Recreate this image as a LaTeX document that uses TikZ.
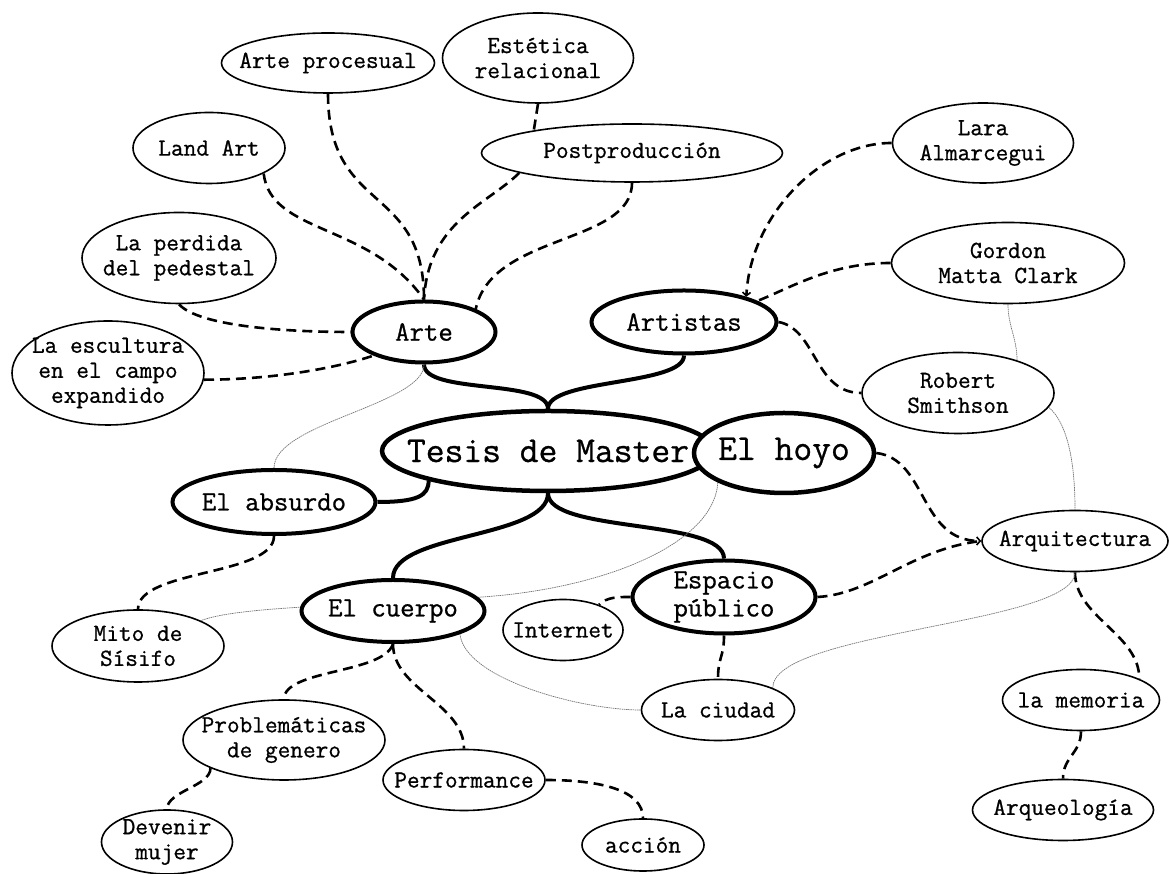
\documentclass[tikz,border=0pt]{standalone}
\usepackage{fontspec}
\usetikzlibrary{shapes.geometric,arrows.meta,backgrounds}
\newfontfamily\mapmono{Latin Modern Mono}[FakeBold=0.8]
\newcommand{\rootfont}{\mapmono\fontsize{36.5}{40}\selectfont}
\newcommand{\topicfont}{\mapmono\fontsize{28}{28}\selectfont}
\newcommand{\leaffont}{\mapmono\fontsize{24.6}{25}\selectfont}

\tikzset{
  mainnode/.style={ellipse, draw, line width=4.5pt, fill=white, inner sep=0pt,
    label={[font=\rootfont, align=center]center:#1}},
  topicnode/.style={ellipse, draw, line width=4pt, fill=white, inner sep=0pt,
    label={[font=\topicfont, align=center]center:#1}},
  leafnode/.style={ellipse, draw, line width=1.6pt, fill=white, inner sep=0pt,
    label={[font=\leaffont, align=center]center:#1}},
  trunkline/.style={line width=4pt},
  branchline/.style={line width=2.6pt, dash pattern=on 10pt off 6pt},
  crossline/.style={line width=0.7pt, black!55, dash pattern=on 1.5pt off 0.7pt},
  tipped/.style={-{Straight Barb[length=3.5pt,width=8pt,line width=1.6pt]}}
}

\begin{document}
\begin{tikzpicture}[x=1pt,y=1pt]
\useasboundingbox (0,0) rectangle (1169,874);

% centre and main topics
\node[mainnode={Tesis de Master}, minimum width=332, minimum height=80] (tesis) at (548,423) {};
\node[mainnode={El hoyo}, minimum width=180, minimum height=80] (hoyo) at (784,421) {};
\node[topicnode={Arte}, minimum width=143, minimum height=61] (arte) at (424,542) {};
\node[topicnode={Artistas}, minimum width=185, minimum height=63] (artistas) at (684,552) {};
\node[topicnode={El absurdo}, minimum width=203, minimum height=64] (absurdo) at (274,372) {};
\node[topicnode={El cuerpo}, minimum width=183, minimum height=62] (cuerpo) at (393,263) {};
\node[topicnode={Espacio\\público}, minimum width=183, minimum height=73] (espacio) at (724,277) {};

% Arte
\node[leafnode={Land Art}, minimum width=152, minimum height=71] (landart) at (209,726) {};
\node[leafnode={La perdida\\del pedestal}, minimum width=194, minimum height=91] (pedestal) at (179,616) {};
\node[leafnode={La escultura\\en el campo\\expandido}, minimum width=192, minimum height=104] (escultura) at (108,501) {};
\node[leafnode={Arte procesual}, minimum width=213, minimum height=60] (procesual) at (328,811) {};
\node[leafnode={Estética\\relacional}, minimum width=191, minimum height=90] (estetica) at (538,816) {};
\node[leafnode={Postproducción}, minimum width=301, minimum height=58] (postprod) at (632,721) {};

% Artistas
\node[leafnode={Lara\\Almarcegui}, minimum width=181, minimum height=80] (lara) at (983,731) {};
\node[leafnode={Gordon\\Matta Clark}, minimum width=233, minimum height=81] (gordon) at (1008,611) {};
\node[leafnode={Robert\\Smithson}, minimum width=192, minimum height=81] (smithson) at (958,481) {};

% El hoyo / Espacio publico
\node[leafnode={Arquitectura}, minimum width=186, minimum height=61] (arquitectura) at (1075,333) {};
\node[leafnode={la memoria}, minimum width=157, minimum height=61] (memoria) at (1081,174) {};
\node[leafnode={Arqueología}, minimum width=181, minimum height=61] (arqueologia) at (1063,64) {};
\node[leafnode={Internet}, minimum width=120, minimum height=61] (internet) at (563,244) {};
\node[leafnode={La ciudad}, minimum width=153, minimum height=61] (ciudad) at (718,164) {};

% El absurdo / El cuerpo
\node[leafnode={Mito de\\Sísifo}, minimum width=172, minimum height=72] (mito) at (138,228) {};
\node[leafnode={Problemáticas\\de genero}, minimum width=202, minimum height=80] (genero) at (284,134) {};
\node[leafnode={Devenir\\mujer}, minimum width=131, minimum height=64] (devenir) at (167,32) {};
\node[leafnode={Performance}, minimum width=162, minimum height=61] (performance) at (464,94) {};
\node[leafnode={acción}, minimum width=122, minimum height=52] (accion) at (643,29) {};

\begin{scope}[on background layer]
% main branches
\draw[trunkline] (arte.south) .. controls +(0,-30) and +(0,30) .. (tesis.north);
\draw[trunkline] (artistas.south) .. controls +(0,-30) and +(0,30) .. (tesis.north);
\draw[trunkline] (tesis.south) .. controls +(0,-45) and +(0,45) .. (cuerpo.north);
\draw[trunkline] (tesis.south) .. controls +(0,-40) and +(0,40) .. (espacio.north);
\draw[trunkline] (absurdo.east) .. controls +(40,0) and +(0,-15) .. (tesis.194);

% sub branches
\draw[branchline] (landart.335) .. controls +(7,-61) and +(-54,77) .. (arte.north);
\draw[branchline] (procesual.south) .. controls +(0,-121) and +(0,117) .. (arte.north);
\draw[branchline] (postprod.190) .. controls +(-31,-31) and +(4,78) .. (arte.north);
\draw[branchline] (postprod.south) .. controls +(0,-62) and +(16,76) .. (arte.24);
\draw[branchline] (estetica.south) -- (postprod.167);
\draw[branchline] (pedestal.south) .. controls +(20,-22) and +(-65,0) .. (arte.west);
\draw[branchline] (escultura.-4) .. controls +(70,0) and +(-35,-12) .. (arte.205);

\draw[branchline, tipped] (lara.west) .. controls +(-72,0) and +(4,80) .. (artistas.22);
\draw[branchline] (gordon.west) .. controls +(-60,0) and +(35,14) .. (artistas.16);
\draw[branchline] (artistas.east) .. controls +(38,-7) and +(-47,0) .. (smithson.west);

\draw[branchline, tipped] (hoyo.east) .. controls +(51,-6) and +(-62,0) .. (arquitectura.west);
\draw[branchline] (espacio.east) .. controls +(55,3) and +(-70,-8) .. (arquitectura.west);
\draw[branchline] (espacio.west) .. controls +(-12,0) and +(8,8) .. (internet.35);
\draw[branchline] (espacio.south) .. controls +(0,-22) and +(0,22) .. (ciudad.north);
\draw[branchline] (arquitectura.south) .. controls +(0,-45) and +(0,45) .. (memoria.20);
\draw[branchline] (memoria.south) .. controls +(0,-22) and +(0,22) .. (arqueologia.north);

\draw[branchline] (absurdo.south) .. controls +(0,-40) and +(0,40) .. (mito.north);
\draw[branchline] (cuerpo.south) .. controls +(-10,-30) and +(0,30) .. (genero.north);
\draw[branchline] (cuerpo.south) .. controls +(0,-45) and +(0,45) .. (performance.north);
\draw[branchline] (genero.201) .. controls +(0,-18) and +(0,18) .. (devenir.north);
\draw[branchline] (performance.east) .. controls +(55,0) and +(0,28) .. (accion.north);

% thin cross links
\coordinate (cuerpoentry) at (482,277);
\draw[crossline] (arte.south) .. controls +(0,-40) and +(0,45) .. (absurdo.north);
\draw[crossline] (gordon.south) .. controls +(0,-22) and +(0,22) .. (smithson.29);
\draw[crossline] (smithson.351) .. controls +(18,-15) and +(0,50) .. (arquitectura.north);
\draw[crossline] (hoyo.204) .. controls +(-4,-63) and +(118,8) .. (cuerpoentry)
  .. controls +(-122,-9) and +(40,15) .. (mito.22);
\draw[crossline] (cuerpo.341) .. controls +(5,-45) and +(-60,0) .. (ciudad.west);
\draw[crossline] (ciudad.22) .. controls +(0,57) and +(0,-52) .. (arquitectura.south);
\end{scope}
\end{tikzpicture}
\end{document}
